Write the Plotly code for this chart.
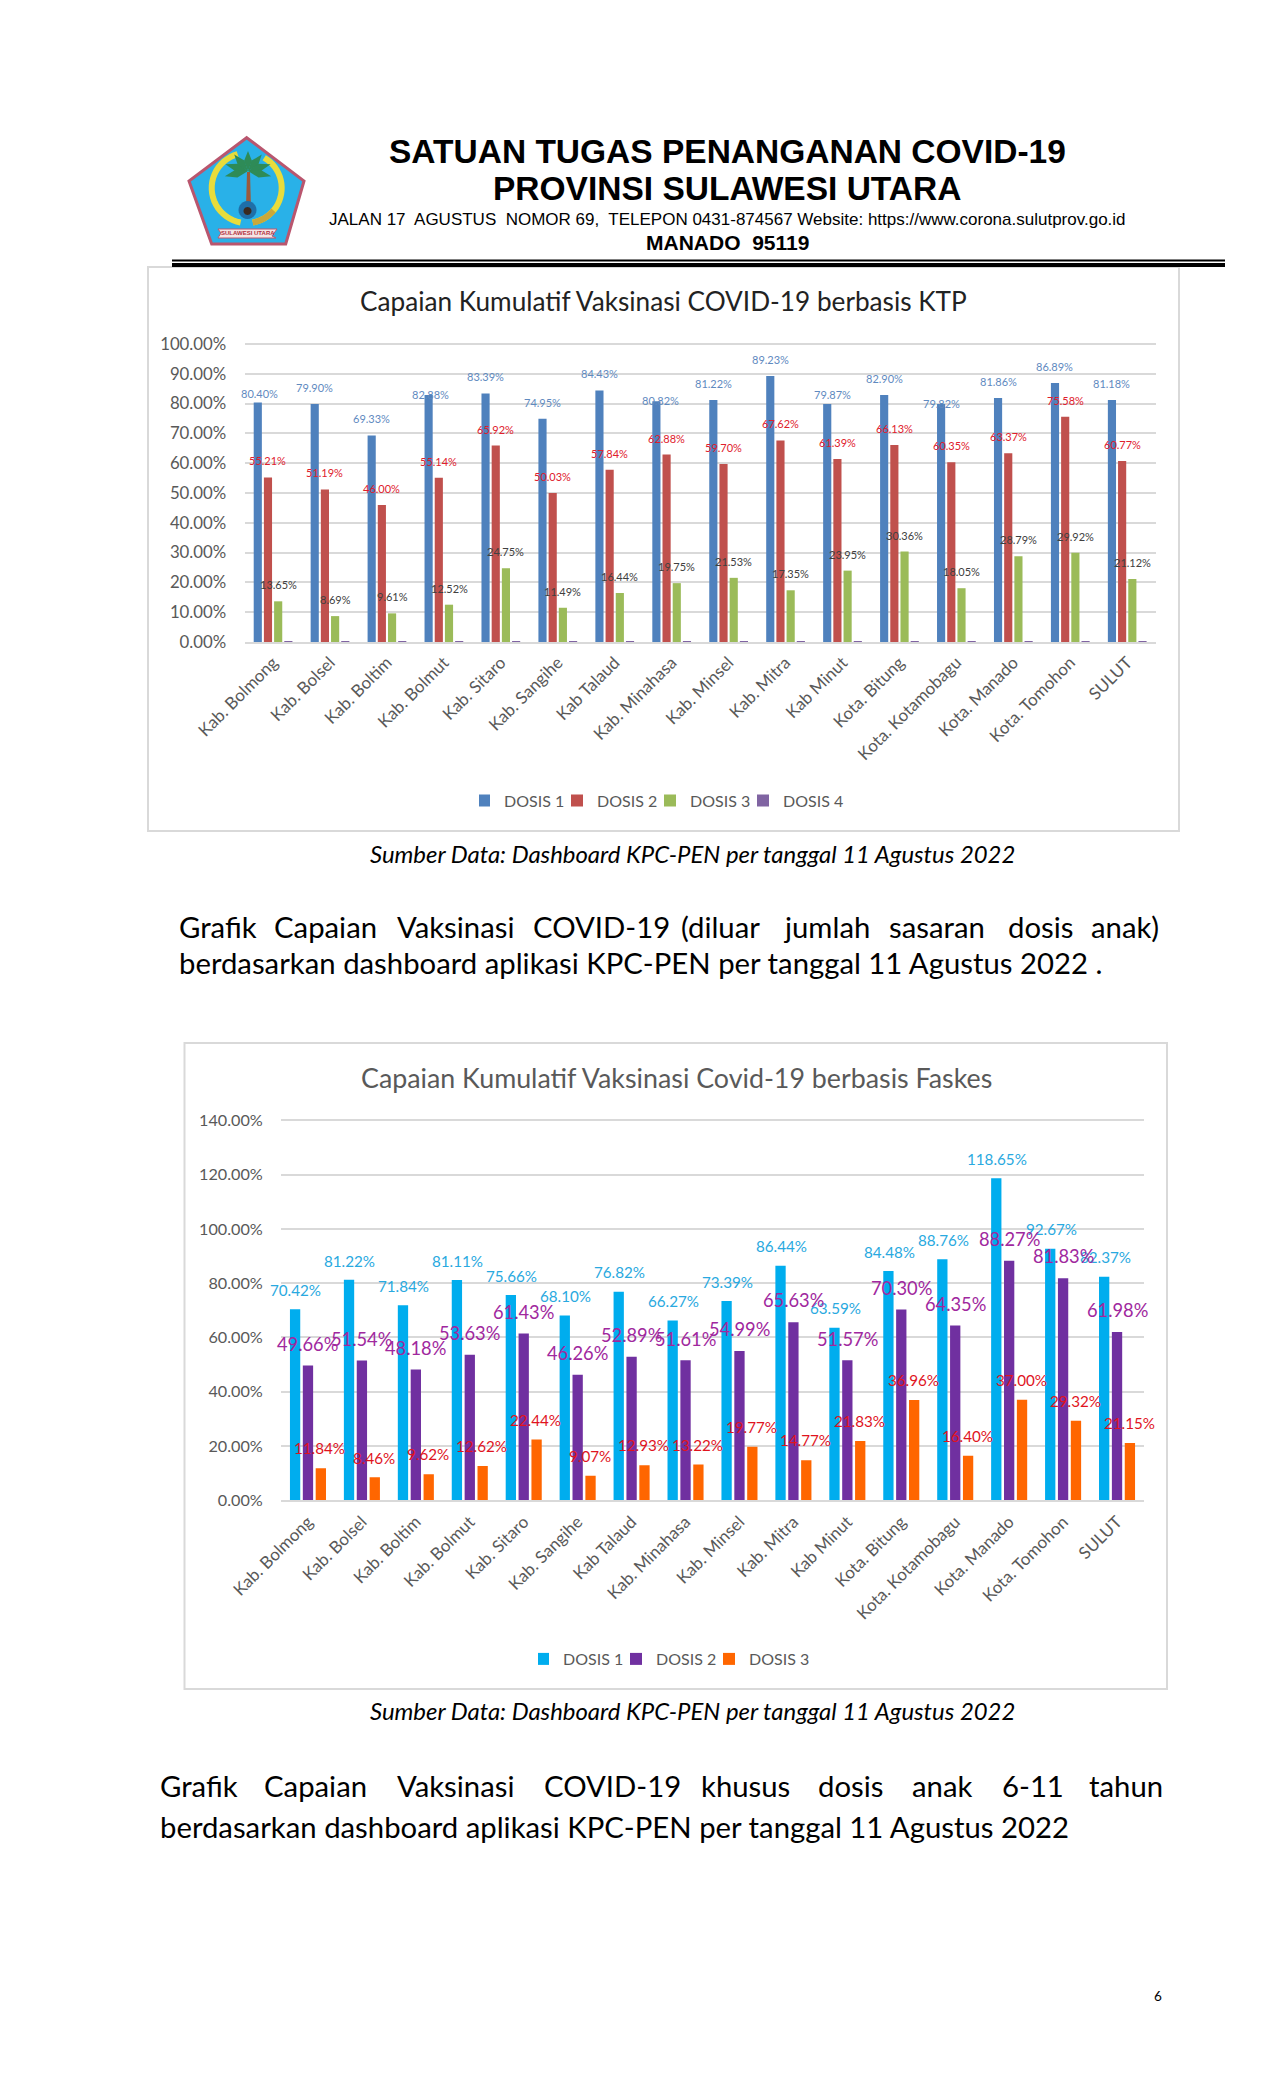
import math
import plotly.graph_objects as go

W, H = 1275, 2100
categories = ["Kab. Bolmong", "Kab. Bolsel", "Kab. Boltim", "Kab. Bolmut", "Kab. Sitaro", "Kab. Sangihe",
              "Kab Talaud", "Kab. Minahasa", "Kab. Minsel", "Kab. Mitra", "Kab Minut", "Kota. Bitung",
              "Kota. Kotamobagu", "Kota. Manado", "Kota. Tomohon", "SULUT"]

ktp_dosis1 = [80.40, 79.90, 69.33, 82.88, 83.39, 74.95, 84.43, 80.82, 81.22, 89.23, 79.87, 82.90, 79.82, 81.86, 86.89, 81.18]
ktp_dosis2 = [55.21, 51.19, 46.00, 55.14, 65.92, 50.03, 57.84, 62.88, 59.70, 67.62, 61.39, 66.13, 60.35, 63.37, 75.58, 60.77]
ktp_dosis3 = [13.65, 8.69, 9.61, 12.52, 24.75, 11.49, 16.44, 19.75, 21.53, 17.35, 23.95, 30.36, 18.05, 28.79, 29.92, 21.12]
ktp_dosis4 = [0.10, 0.05, 0.05, 0.10, 0.10, 0.05, 0.10, 0.05, 0.05, 0.05, 0.05, 0.15, 0.15, 0.10, 0.10, 0.10]

faskes_dosis1 = [70.42, 81.22, 71.84, 81.11, 75.66, 68.10, 76.82, 66.27, 73.39, 86.44, 63.59, 84.48, 88.76, 118.65, 92.67, 82.37]
faskes_dosis2 = [49.66, 51.54, 48.18, 53.63, 61.43, 46.26, 52.89, 51.61, 54.99, 65.63, 51.57, 70.30, 64.35, 88.27, 81.83, 61.98]
faskes_dosis3 = [11.84, 8.46, 9.62, 12.62, 22.44, 9.07, 12.93, 13.22, 19.77, 14.77, 21.83, 36.96, 16.40, 37.00, 29.32, 21.15]

FONT = "Lato"
GREY = "#595959"
GRID = "#D9D9D9"


def dom_x(a, b):
    return [a / W, b / W]


def dom_y(top, bottom):
    return [1 - bottom / H, 1 - top / H]


fig = go.Figure()

# ---- chart 1
for name, vals, col in [("DOSIS 1", ktp_dosis1, "#4F81BD"), ("DOSIS 2", ktp_dosis2, "#C0504D"),
                        ("DOSIS 3", ktp_dosis3, "#9BBB59"), ("DOSIS 4", ktp_dosis4, "#8064A2")]:
    fig.add_trace(go.Bar(x=categories, y=vals, name=name, marker=dict(color=col, line=dict(width=0)),
                         xaxis="x", yaxis="y", legend="legend", hoverinfo="x+y"))
# ---- chart 2
for name, vals, col in [("DOSIS 1", faskes_dosis1, "#00ADEE"), ("DOSIS 2", faskes_dosis2, "#7030A0"),
                        ("DOSIS 3", faskes_dosis3, "#FF6600")]:
    fig.add_trace(go.Bar(x=categories, y=vals, name=name, marker=dict(color=col, line=dict(width=0)),
                         xaxis="x2", yaxis="y2", legend="legend2", hoverinfo="x+y"))

ann = []


def text(x, y, s, size, color="black", family=FONT, xanchor="center", yanchor="middle", bold=False, italic=False):
    if bold:
        s = "<b>" + s + "</b>"
    if italic:
        s = "<i>" + s + "</i>"
    ann.append(dict(x=x / W, y=1 - y / H, xref="paper", yref="paper", text=s, showarrow=False,
                    xanchor=xanchor, yanchor=yanchor, font=dict(size=size, color=color, family=family),
                    borderpad=0, borderwidth=0))


def labels(xaxis, yaxis, vals, slot, size, color, dy, dxs=None, dys=None):
    for i, v in enumerate(vals):
        ann.append(dict(x=i, y=v, xref=xaxis, yref=yaxis, text=f"{v:.2f}%", showarrow=False,
                        xshift=slot + (dxs or {}).get(i, 0), yshift=(dys or {}).get(i, dy),
                        xanchor="center", yanchor="middle", font=dict(size=size, color=color, family=FONT)))


# data labels chart 1: label offsets that differ from the regular ones
labels("x", "y", ktp_dosis1, -15.3, 11, "#5F8ABF", 16.5,
       {0: 2, 3: 2, 7: 4.6, 10: 5}, {0: 9, 3: 1, 7: 1, 10: 9, 12: 1})
labels("x", "y", ktp_dosis2, -5.1, 11, "#E0202C", 16.5)
labels("x", "y", ktp_dosis3, 5.1, 11, "#404040", 16.5)
# data labels chart 2
labels("x2", "y2", faskes_dosis1, -12, 15.2, "#29A9E0", 19.3)
labels("x2", "y2", faskes_dosis2, 0, 18.3, "#A0289E", 21.7)
labels("x2", "y2", faskes_dosis3, 12, 15.2, "#E0141E", 19.8)

# header
SANS = "Liberation Sans"
text(727, 151, "SATUAN TUGAS PENANGANAN COVID-19", 33.5, family=SANS, bold=True)
text(727, 189, "PROVINSI SULAWESI UTARA", 33.5, family=SANS, bold=True)
text(728, 220, "JALAN 17  AGUSTUS  NOMOR 69,  TELEPON 0431-874567 Website: https://www.corona.sulutprov.go.id", 17, family=SANS)
text(728, 242, "MANADO  95119", 21, family=SANS, bold=True)

# chart titles, captions
text(663, 301, "Capaian Kumulatif Vaksinasi COVID-19 berbasis KTP", 26.2, color="#222222")
text(676, 1078, "Capaian Kumulatif Vaksinasi Covid-19 berbasis Faskes", 26.8, color=GREY)
text(692, 853, "Sumber Data: Dashboard KPC-PEN per tanggal 11 Agustus 2022", 23.9, italic=True)
text(692, 1710, "Sumber Data: Dashboard KPC-PEN per tanggal 11 Agustus 2022", 23.9, italic=True)

# justified paragraphs
for x, w in zip([178.8, 274, 396.5, 533, 680.5, 783, 889, 1008, 1091],
                ["Grafik", "Capaian", "Vaksinasi", "COVID-19", "(diluar", "jumlah", "sasaran", "dosis", "anak)"]):
    text(x, 926, w, 29.3, xanchor="left")
text(178.8, 962, "berdasarkan dashboard aplikasi KPC-PEN per tanggal 11 Agustus 2022 .", 29.3, xanchor="left")
for x, w in zip([160, 263.7, 397, 543.6, 701, 818, 912, 1002, 1089],
                ["Grafik", "Capaian", "Vaksinasi", "COVID-19", "khusus", "dosis", "anak", "6-11", "tahun"]):
    text(x, 1785, w, 29.3, xanchor="left")
text(160, 1826, "berdasarkan dashboard aplikasi KPC-PEN per tanggal 11 Agustus 2022", 29.3, xanchor="left")
text(1158, 1996, "6", 13.5)

shapes = []


def rect(x0, y0, x1, y1, fill=None, line=None, lw=0):
    shapes.append(dict(type="rect", xref="paper", yref="paper", x0=x0 / W, x1=x1 / W, y0=1 - y0 / H, y1=1 - y1 / H,
                       fillcolor=fill or "rgba(0,0,0,0)", line=dict(color=line or "rgba(0,0,0,0)", width=lw), layer="below"))


# chart frames and header rule
rect(148, 267, 1179, 831, line=GRID, lw=2)
rect(184.5, 1043, 1167, 1689, line=GRID, lw=2)
rect(172, 259.5, 1225, 261.5, fill="black")
rect(172, 263, 1225, 267, fill="black")


def poly(pts, fill, line=None, lw=0, close=True):
    p = "M" + " L".join(f"{x / W:.5f},{1 - y / H:.5f}" for x, y in pts) + (" Z" if close else "")
    shapes.append(dict(type="path", xref="paper", yref="paper", path=p, fillcolor=fill,
                       line=dict(color=line or "rgba(0,0,0,0)", width=lw)))


def arc(cx, cy, r, a0, a1, n=24):
    return [(cx + r * math.cos(math.radians(a0 + (a1 - a0) * k / n)),
             cy + r * math.sin(math.radians(a0 + (a1 - a0) * k / n))) for k in range(n + 1)]


# logo
poly([(246.7, 137.7), (304, 181), (285.7, 244), (211.7, 244), (189, 181)], "#29B1E8", "#B9566E", 3)
for a0, a1, col in [(100, 255, "#E8DC3C"), (80, -60, "#E8DC3C"), (40, 80, "#C9A83A")]:
    poly(arc(246.7, 188, 35, a0, a1), "rgba(0,0,0,0)", col, 6, close=False)
poly([(247, 172), (250, 172), (251, 208), (246, 208)], "#9A5A3C")
for ang in [200, 235, 270, 305, 340, 165, 15]:
    a = math.radians(ang)
    tip = (248 + 24 * math.cos(a), 171 + 20 * math.sin(a))
    n = (math.sin(a) * 4, -math.cos(a) * 4)
    mid = (248 + 12 * math.cos(a), 171 + 10 * math.sin(a))
    poly([(248, 171), (mid[0] + n[0], mid[1] + n[1]), tip, (mid[0] - n[0], mid[1] - n[1])], "#2E8B57")
poly(arc(247.5, 210, 9, 0, 360), "#1F6FA8")
poly(arc(247.5, 211, 4, 0, 360), "#3A2A20")
poly([(218, 229), (277, 229), (272, 236), (276, 238), (218, 238), (221, 233)], "#F6E4E4", "#C0566E", 1)
text(247.5, 233.5, "SULAWESI UTARA", 6, color="#B03040", family=SANS, bold=True)

fig.update_layout(
    width=W, height=H, margin=dict(l=0, r=0, t=0, b=0, autoexpand=False), paper_bgcolor="white", plot_bgcolor="white",
    barmode="group", showlegend=True, annotations=ann, shapes=shapes,
    font=dict(family=FONT, color=GREY),
    bargap=0.284, bargroupgap=0.2,
    xaxis=dict(domain=dom_x(244.6, 1155.7), anchor="y", range=[-0.5, 15.5], tickangle=-45,
               tickfont=dict(size=17, color=GREY), showgrid=False, ticks="", showline=True, linecolor=GRID,
               linewidth=2, automargin=False, ticklabelstandoff=2),
    yaxis=dict(domain=dom_y(341, 642), anchor="x", range=[0, 101], tick0=0, dtick=10, ticksuffix="%",
               tickformat=".2f", tickfont=dict(size=16.8, color=GREY), gridcolor=GRID, gridwidth=2,
               zeroline=False, showline=False, ticklen=14, ticks="outside", tickcolor="rgba(0,0,0,0)", automargin=False),
    xaxis2=dict(domain=dom_x(281, 1144), anchor="y2", range=[-0.5, 15.5], tickangle=-45,
                tickfont=dict(size=17, color=GREY), showgrid=False, ticks="", showline=True, linecolor=GRID,
                linewidth=2, automargin=False, ticklabelstandoff=3),
    yaxis2=dict(domain=dom_y(1118.9, 1500.3), anchor="x2", range=[0, 140.5], tick0=0, dtick=20, ticksuffix="%",
                tickformat=".2f", tickfont=dict(size=16.2, color=GREY), gridcolor=GRID, gridwidth=1.5,
                zeroline=False, showline=False, ticklen=14, ticks="outside", tickcolor="rgba(0,0,0,0)", automargin=False),
    legend=dict(orientation="h", x=479 / W, y=1 - 800.5 / H, xanchor="left", yanchor="middle", indentation=-15,
                entrywidth=63, entrywidthmode="pixels", font=dict(size=16, color=GREY), itemclick=False,
                traceorder="normal", bgcolor="rgba(0,0,0,0)", itemwidth=30),
    legend2=dict(orientation="h", x=538 / W, y=1 - 1659 / H, xanchor="left", yanchor="middle", indentation=-15,
                 entrywidth=63, entrywidthmode="pixels", font=dict(size=16, color=GREY), itemclick=False,
                 traceorder="normal", bgcolor="rgba(0,0,0,0)", itemwidth=30),
)

fig.write_html("out.html", post_script="document.body.style.margin='0';", config=dict(displayModeBar=False))
